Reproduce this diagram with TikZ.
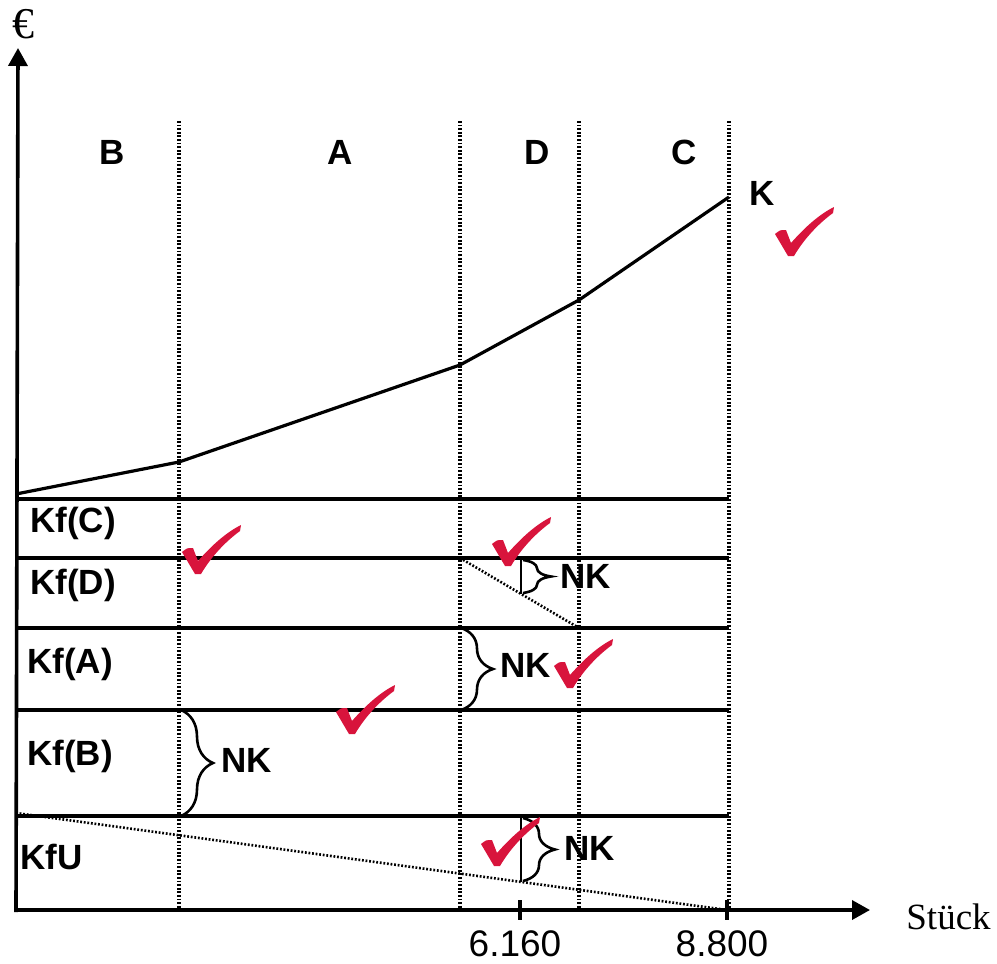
\documentclass[tikz,border=0pt]{standalone}
\usepackage{fontspec}
\setmainfont{Liberation Sans}
\newfontfamily\serifschrift{Liberation Serif}
\usepackage{tikz}
\usetikzlibrary{positioning, arrows.meta, decorations.pathreplacing}
\definecolor{hakenrot}{HTML}{D8143C}

\tikzset{
    achse/.style={line width=1.8pt, -{Triangle[length=9pt, width=9.5pt]}},
    linie/.style={line width=1.6pt},
    punkte/.style={line width=1.6pt, dash pattern=on 0.9pt off 0.9pt},
    klammer/.style={line width=1.3pt, decorate, decoration={brace, amplitude=#1}},
    lbl/.style={font=\fontsize{17.5}{20}\selectfont\bfseries, inner sep=0pt},
    zahl/.style={font=\fontsize{18.5}{21}\selectfont, inner sep=0pt},
    haken/.pic={
        \fill[hakenrot] (-3,-1) .. controls (2,-5) .. (8,-5) -- (13,8)
            .. controls (28,-9) and (42,-21) .. (56,-28) -- (55,-22)
            .. controls (40,-11) and (26,4) .. (16,21) -- (10,21) -- cycle;
    }
}

\begin{document}
\begin{tikzpicture}[x=0.5pt, y=-0.5pt]
        \useasboundingbox (0,0) rectangle (997,964);

        \draw[achse] (16,912) -- (18,48);
        \node (euro) [font=\serifschrift\fontsize{22}{24}\selectfont, inner sep=0pt] at (23,24) {€};
        \draw[achse] (14,910) -- (870,910);
        \node (stueck) [font=\serifschrift\fontsize{18.5}{21}\selectfont, inner sep=0pt, anchor=west] at (906,917) {Stück};

        \foreach \x in {179, 460, 579, 729}
        \draw[punkte] (\x,121) -- (\x,908);
        \foreach \t/\x in {B/112, A/340, D/537, C/684}
        \node (reg\t) [lbl] at (\x,152) {\t};

        \foreach \y in {499, 558, 628, 710, 816}
        \draw[linie] (16,\y) -- (729,\y);
        \foreach \n/\t/\x/\y in {kfC/{Kf(C)}/30/523, kfD/{Kf(D)}/30/585, kfA/{Kf(A)}/27/664, kfB/{Kf(B)}/27/756, kfU/KfU/20/857}
        \node (\n) [lbl, anchor=west] at (\x,\y) {\t};

        \draw[linie] (16,494) -- (179,462) -- (460,365) -- (579,300) -- (729,197);
        \node (kurveK) [lbl] at (762,193) {K};

        \coordinate (dA) at (460,558);
        \coordinate (dB) at (579,628);
        \coordinate (uA) at (16,813);
        \coordinate (uB) at (727,910);
        \coordinate (nkD) at (521,594);
        \coordinate (nkU) at (521,882);
        \draw[punkte, line width=1.3pt] (dA) -- (dB);
        \draw[punkte, line width=1.3pt] (uA) -- (uB);
        \draw[line width=1.2pt] (521,558) -- (nkD);
        \draw[line width=1.2pt] (521,816) -- (nkU);

        \foreach \x/\t in {520/6.160, 727/8.800} {
            \draw[linie] (\x,900) -- (\x,920);
            \node (tick\x) [zahl] at (\x-5,944) {\t};
        }

        \draw[klammer=16pt] (181,710) -- (181,816);
        \node (nkB) [lbl, anchor=west] at (221,760) {NK};
        \draw[klammer=16pt] (461,628) -- (461,710);
        \node (nkA) [lbl, anchor=west] at (500,665) {NK};
        \draw[klammer=14pt] (523,560) -- (523,593);
        \node (nkDl) [lbl, anchor=west] at (560,576) {NK};
        \draw[klammer=16pt] (523,818) -- (523,881);
        \node (nkUl) [lbl, anchor=west] at (564,848) {NK};

        \foreach \p in {(778,235), (185,553), (495,545), (557,667), (339,713), (484,845)}
        \pic at \p {haken};
\end{tikzpicture}
\end{document}
